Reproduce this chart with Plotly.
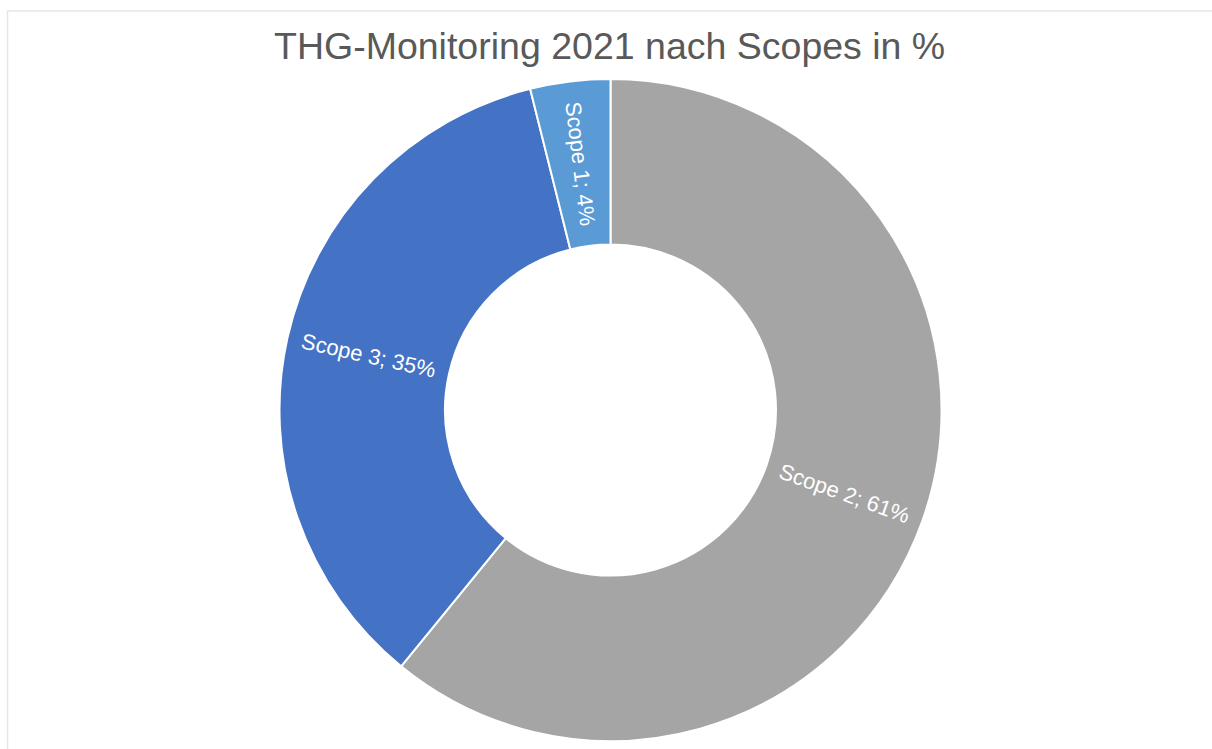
import math
import plotly.graph_objects as go

labels = ["Scope 2", "Scope 3", "Scope 1"]
values = [60.9, 35.2, 3.9]
text_labels = ["Scope 2; 61%", "Scope 3; 35%", "Scope 1; 4%"]
colors = ["#A5A5A5", "#4472C4", "#5B9BD5"]

W, H = 1212, 749
cx, cy, R = 610.5, 410, 331
HOLE = 0.5
FONT = "Liberation Sans, Arial, sans-serif"

fig = go.Figure(go.Pie(
    labels=labels,
    values=values,
    hole=HOLE,
    sort=False,
    direction="clockwise",
    rotation=0,
    marker=dict(colors=colors, line=dict(color="white", width=2)),
    textinfo="none",
    domain=dict(x=[(cx - R) / W, (cx + R) / W], y=[(H - cy - R) / H, (H - cy + R) / H]),
    showlegend=False,
    hoverinfo="label+percent",
))

# data labels placed radially at the middle of each ring segment
total = sum(values)
r_mid = R * (1 + HOLE) / 2
annotations = []
cum = 0.0
for lab, v in zip(text_labels, values):
    mid = (cum + v / 2) / total * 360.0
    cum += v
    th = math.radians(mid)
    px = cx + r_mid * math.sin(th)
    py = cy - r_mid * math.cos(th)
    ang = mid - 90
    if ang > 90:
        ang -= 180
    annotations.append(dict(
        x=px / W, y=(H - py) / H, xref="paper", yref="paper",
        text=lab, showarrow=False, textangle=ang,
        xanchor="center", yanchor="middle",
        font=dict(color="white", size=22, family=FONT),
    ))

fig.update_layout(
    width=W, height=H,
    margin=dict(l=0, r=0, t=0, b=0),
    paper_bgcolor="white",
    title=dict(
        text="THG-Monitoring 2021 nach Scopes in %",
        x=0.503, xanchor="center", y=(H - 46) / H, yanchor="middle",
        font=dict(size=37.5, color="#595959", family=FONT),
    ),
    annotations=annotations,
    shapes=[dict(type="rect", xref="paper", yref="paper",
                 x0=7.5 / W, x1=1.05, y0=-0.05, y1=(H - 11) / H,
                 line=dict(color="#E6E6E6", width=1.5), fillcolor="rgba(0,0,0,0)", layer="below")],
)

fig.write_html("out.html")
